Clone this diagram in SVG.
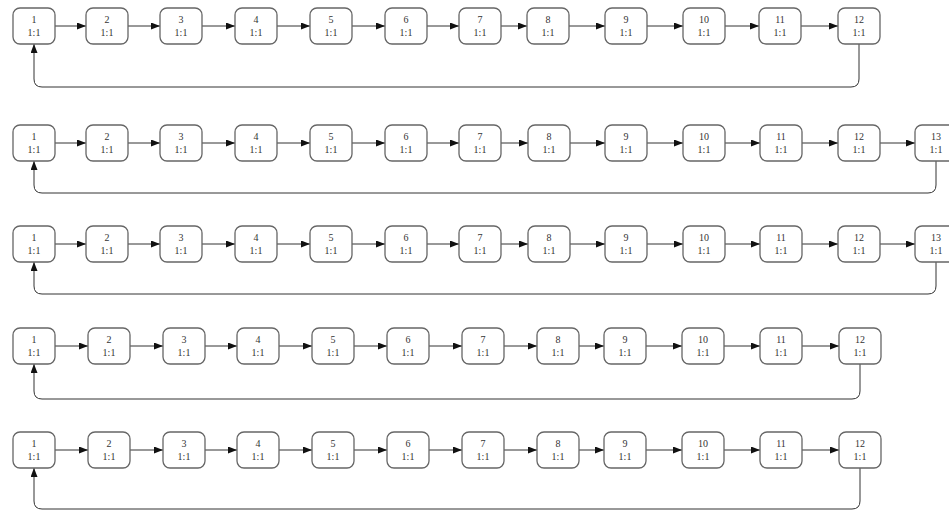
<svg xmlns="http://www.w3.org/2000/svg" width="949" height="510" viewBox="0 0 949 510">
<style>
.n text{font-family:"Liberation Serif","DejaVu Serif",serif;font-size:10px;fill:#333;text-anchor:middle}
.c path{fill:none;stroke:#333;stroke-width:1}
</style>
<defs>
<marker id="a" markerUnits="userSpaceOnUse" markerWidth="9" markerHeight="7" refX="9" refY="3.5" orient="auto"><path d="M0,0L9,3.5L0,7z" fill="#111"/></marker>
<rect id="b" x="0" y="0" width="42" height="36" rx="7" fill="#fff" stroke="#666" stroke-width="1.3"/>
</defs>
<rect width="949" height="510" fill="#fff"/>
<g class="c" id="connectors">
<path marker-end="url(#a)" d="M55,26H86"/>
<path marker-end="url(#a)" d="M128,26H160"/>
<path marker-end="url(#a)" d="M202,26H235"/>
<path marker-end="url(#a)" d="M277,26H310"/>
<path marker-end="url(#a)" d="M352,26H385"/>
<path marker-end="url(#a)" d="M427,26H459"/>
<path marker-end="url(#a)" d="M501,26H527"/>
<path marker-end="url(#a)" d="M569,26H605"/>
<path marker-end="url(#a)" d="M647,26H683"/>
<path marker-end="url(#a)" d="M725,26H759"/>
<path marker-end="url(#a)" d="M801,26H838"/>
<path marker-end="url(#a)" d="M859,44V79Q859,87 851,87H42Q34,87 34,79V44"/>
<path marker-end="url(#a)" d="M55,143H86"/>
<path marker-end="url(#a)" d="M128,143H160"/>
<path marker-end="url(#a)" d="M202,143H235"/>
<path marker-end="url(#a)" d="M277,143H310"/>
<path marker-end="url(#a)" d="M352,143H385"/>
<path marker-end="url(#a)" d="M427,143H459"/>
<path marker-end="url(#a)" d="M501,143H528"/>
<path marker-end="url(#a)" d="M570,143H605"/>
<path marker-end="url(#a)" d="M647,143H683"/>
<path marker-end="url(#a)" d="M725,143H760"/>
<path marker-end="url(#a)" d="M802,143H838"/>
<path marker-end="url(#a)" d="M880,143H915"/>
<path marker-end="url(#a)" d="M936,161V185Q936,193 928,193H42Q34,193 34,185V161"/>
<path marker-end="url(#a)" d="M55,244H86"/>
<path marker-end="url(#a)" d="M128,244H160"/>
<path marker-end="url(#a)" d="M202,244H235"/>
<path marker-end="url(#a)" d="M277,244H310"/>
<path marker-end="url(#a)" d="M352,244H385"/>
<path marker-end="url(#a)" d="M427,244H459"/>
<path marker-end="url(#a)" d="M501,244H528"/>
<path marker-end="url(#a)" d="M570,244H605"/>
<path marker-end="url(#a)" d="M647,244H683"/>
<path marker-end="url(#a)" d="M725,244H760"/>
<path marker-end="url(#a)" d="M802,244H838"/>
<path marker-end="url(#a)" d="M880,244H915"/>
<path marker-end="url(#a)" d="M936,262V286Q936,294 928,294H42Q34,294 34,286V262"/>
<path marker-end="url(#a)" d="M55,346H88"/>
<path marker-end="url(#a)" d="M130,346H163"/>
<path marker-end="url(#a)" d="M205,346H237"/>
<path marker-end="url(#a)" d="M279,346H312"/>
<path marker-end="url(#a)" d="M354,346H387"/>
<path marker-end="url(#a)" d="M429,346H462"/>
<path marker-end="url(#a)" d="M504,346H537"/>
<path marker-end="url(#a)" d="M579,346H604"/>
<path marker-end="url(#a)" d="M646,346H682"/>
<path marker-end="url(#a)" d="M724,346H760"/>
<path marker-end="url(#a)" d="M802,346H839"/>
<path marker-end="url(#a)" d="M860,364V391Q860,399 852,399H42Q34,399 34,391V364"/>
<path marker-end="url(#a)" d="M55,450H88"/>
<path marker-end="url(#a)" d="M130,450H163"/>
<path marker-end="url(#a)" d="M205,450H237"/>
<path marker-end="url(#a)" d="M279,450H312"/>
<path marker-end="url(#a)" d="M354,450H387"/>
<path marker-end="url(#a)" d="M429,450H462"/>
<path marker-end="url(#a)" d="M504,450H537"/>
<path marker-end="url(#a)" d="M579,450H604"/>
<path marker-end="url(#a)" d="M646,450H682"/>
<path marker-end="url(#a)" d="M724,450H760"/>
<path marker-end="url(#a)" d="M802,450H839"/>
<path marker-end="url(#a)" d="M860,468V501Q860,509 852,509H42Q34,509 34,501V468"/>
</g>
<g class="n" id="r1n1" transform="translate(13,8)"><use href="#b"/><text x="21" y="15">1</text><text x="21" y="28">1:1</text></g>
<g class="n" id="r1n2" transform="translate(86,8)"><use href="#b"/><text x="21" y="15">2</text><text x="21" y="28">1:1</text></g>
<g class="n" id="r1n3" transform="translate(160,8)"><use href="#b"/><text x="21" y="15">3</text><text x="21" y="28">1:1</text></g>
<g class="n" id="r1n4" transform="translate(235,8)"><use href="#b"/><text x="21" y="15">4</text><text x="21" y="28">1:1</text></g>
<g class="n" id="r1n5" transform="translate(310,8)"><use href="#b"/><text x="21" y="15">5</text><text x="21" y="28">1:1</text></g>
<g class="n" id="r1n6" transform="translate(385,8)"><use href="#b"/><text x="21" y="15">6</text><text x="21" y="28">1:1</text></g>
<g class="n" id="r1n7" transform="translate(459,8)"><use href="#b"/><text x="21" y="15">7</text><text x="21" y="28">1:1</text></g>
<g class="n" id="r1n8" transform="translate(527,8)"><use href="#b"/><text x="21" y="15">8</text><text x="21" y="28">1:1</text></g>
<g class="n" id="r1n9" transform="translate(605,8)"><use href="#b"/><text x="21" y="15">9</text><text x="21" y="28">1:1</text></g>
<g class="n" id="r1n10" transform="translate(683,8)"><use href="#b"/><text x="21" y="15">10</text><text x="21" y="28">1:1</text></g>
<g class="n" id="r1n11" transform="translate(759,8)"><use href="#b"/><text x="21" y="15">11</text><text x="21" y="28">1:1</text></g>
<g class="n" id="r1n12" transform="translate(838,8)"><use href="#b"/><text x="21" y="15">12</text><text x="21" y="28">1:1</text></g>
<g class="n" id="r2n1" transform="translate(13,125)"><use href="#b"/><text x="21" y="15">1</text><text x="21" y="28">1:1</text></g>
<g class="n" id="r2n2" transform="translate(86,125)"><use href="#b"/><text x="21" y="15">2</text><text x="21" y="28">1:1</text></g>
<g class="n" id="r2n3" transform="translate(160,125)"><use href="#b"/><text x="21" y="15">3</text><text x="21" y="28">1:1</text></g>
<g class="n" id="r2n4" transform="translate(235,125)"><use href="#b"/><text x="21" y="15">4</text><text x="21" y="28">1:1</text></g>
<g class="n" id="r2n5" transform="translate(310,125)"><use href="#b"/><text x="21" y="15">5</text><text x="21" y="28">1:1</text></g>
<g class="n" id="r2n6" transform="translate(385,125)"><use href="#b"/><text x="21" y="15">6</text><text x="21" y="28">1:1</text></g>
<g class="n" id="r2n7" transform="translate(459,125)"><use href="#b"/><text x="21" y="15">7</text><text x="21" y="28">1:1</text></g>
<g class="n" id="r2n8" transform="translate(528,125)"><use href="#b"/><text x="21" y="15">8</text><text x="21" y="28">1:1</text></g>
<g class="n" id="r2n9" transform="translate(605,125)"><use href="#b"/><text x="21" y="15">9</text><text x="21" y="28">1:1</text></g>
<g class="n" id="r2n10" transform="translate(683,125)"><use href="#b"/><text x="21" y="15">10</text><text x="21" y="28">1:1</text></g>
<g class="n" id="r2n11" transform="translate(760,125)"><use href="#b"/><text x="21" y="15">11</text><text x="21" y="28">1:1</text></g>
<g class="n" id="r2n12" transform="translate(838,125)"><use href="#b"/><text x="21" y="15">12</text><text x="21" y="28">1:1</text></g>
<g class="n" id="r2n13" transform="translate(915,125)"><use href="#b"/><text x="21" y="15">13</text><text x="21" y="28">1:1</text></g>
<g class="n" id="r3n1" transform="translate(13,226)"><use href="#b"/><text x="21" y="15">1</text><text x="21" y="28">1:1</text></g>
<g class="n" id="r3n2" transform="translate(86,226)"><use href="#b"/><text x="21" y="15">2</text><text x="21" y="28">1:1</text></g>
<g class="n" id="r3n3" transform="translate(160,226)"><use href="#b"/><text x="21" y="15">3</text><text x="21" y="28">1:1</text></g>
<g class="n" id="r3n4" transform="translate(235,226)"><use href="#b"/><text x="21" y="15">4</text><text x="21" y="28">1:1</text></g>
<g class="n" id="r3n5" transform="translate(310,226)"><use href="#b"/><text x="21" y="15">5</text><text x="21" y="28">1:1</text></g>
<g class="n" id="r3n6" transform="translate(385,226)"><use href="#b"/><text x="21" y="15">6</text><text x="21" y="28">1:1</text></g>
<g class="n" id="r3n7" transform="translate(459,226)"><use href="#b"/><text x="21" y="15">7</text><text x="21" y="28">1:1</text></g>
<g class="n" id="r3n8" transform="translate(528,226)"><use href="#b"/><text x="21" y="15">8</text><text x="21" y="28">1:1</text></g>
<g class="n" id="r3n9" transform="translate(605,226)"><use href="#b"/><text x="21" y="15">9</text><text x="21" y="28">1:1</text></g>
<g class="n" id="r3n10" transform="translate(683,226)"><use href="#b"/><text x="21" y="15">10</text><text x="21" y="28">1:1</text></g>
<g class="n" id="r3n11" transform="translate(760,226)"><use href="#b"/><text x="21" y="15">11</text><text x="21" y="28">1:1</text></g>
<g class="n" id="r3n12" transform="translate(838,226)"><use href="#b"/><text x="21" y="15">12</text><text x="21" y="28">1:1</text></g>
<g class="n" id="r3n13" transform="translate(915,226)"><use href="#b"/><text x="21" y="15">13</text><text x="21" y="28">1:1</text></g>
<g class="n" id="r4n1" transform="translate(13,328)"><use href="#b"/><text x="21" y="15">1</text><text x="21" y="28">1:1</text></g>
<g class="n" id="r4n2" transform="translate(88,328)"><use href="#b"/><text x="21" y="15">2</text><text x="21" y="28">1:1</text></g>
<g class="n" id="r4n3" transform="translate(163,328)"><use href="#b"/><text x="21" y="15">3</text><text x="21" y="28">1:1</text></g>
<g class="n" id="r4n4" transform="translate(237,328)"><use href="#b"/><text x="21" y="15">4</text><text x="21" y="28">1:1</text></g>
<g class="n" id="r4n5" transform="translate(312,328)"><use href="#b"/><text x="21" y="15">5</text><text x="21" y="28">1:1</text></g>
<g class="n" id="r4n6" transform="translate(387,328)"><use href="#b"/><text x="21" y="15">6</text><text x="21" y="28">1:1</text></g>
<g class="n" id="r4n7" transform="translate(462,328)"><use href="#b"/><text x="21" y="15">7</text><text x="21" y="28">1:1</text></g>
<g class="n" id="r4n8" transform="translate(537,328)"><use href="#b"/><text x="21" y="15">8</text><text x="21" y="28">1:1</text></g>
<g class="n" id="r4n9" transform="translate(604,328)"><use href="#b"/><text x="21" y="15">9</text><text x="21" y="28">1:1</text></g>
<g class="n" id="r4n10" transform="translate(682,328)"><use href="#b"/><text x="21" y="15">10</text><text x="21" y="28">1:1</text></g>
<g class="n" id="r4n11" transform="translate(760,328)"><use href="#b"/><text x="21" y="15">11</text><text x="21" y="28">1:1</text></g>
<g class="n" id="r4n12" transform="translate(839,328)"><use href="#b"/><text x="21" y="15">12</text><text x="21" y="28">1:1</text></g>
<g class="n" id="r5n1" transform="translate(13,432)"><use href="#b"/><text x="21" y="15">1</text><text x="21" y="28">1:1</text></g>
<g class="n" id="r5n2" transform="translate(88,432)"><use href="#b"/><text x="21" y="15">2</text><text x="21" y="28">1:1</text></g>
<g class="n" id="r5n3" transform="translate(163,432)"><use href="#b"/><text x="21" y="15">3</text><text x="21" y="28">1:1</text></g>
<g class="n" id="r5n4" transform="translate(237,432)"><use href="#b"/><text x="21" y="15">4</text><text x="21" y="28">1:1</text></g>
<g class="n" id="r5n5" transform="translate(312,432)"><use href="#b"/><text x="21" y="15">5</text><text x="21" y="28">1:1</text></g>
<g class="n" id="r5n6" transform="translate(387,432)"><use href="#b"/><text x="21" y="15">6</text><text x="21" y="28">1:1</text></g>
<g class="n" id="r5n7" transform="translate(462,432)"><use href="#b"/><text x="21" y="15">7</text><text x="21" y="28">1:1</text></g>
<g class="n" id="r5n8" transform="translate(537,432)"><use href="#b"/><text x="21" y="15">8</text><text x="21" y="28">1:1</text></g>
<g class="n" id="r5n9" transform="translate(604,432)"><use href="#b"/><text x="21" y="15">9</text><text x="21" y="28">1:1</text></g>
<g class="n" id="r5n10" transform="translate(682,432)"><use href="#b"/><text x="21" y="15">10</text><text x="21" y="28">1:1</text></g>
<g class="n" id="r5n11" transform="translate(760,432)"><use href="#b"/><text x="21" y="15">11</text><text x="21" y="28">1:1</text></g>
<g class="n" id="r5n12" transform="translate(839,432)"><use href="#b"/><text x="21" y="15">12</text><text x="21" y="28">1:1</text></g>
</svg>
